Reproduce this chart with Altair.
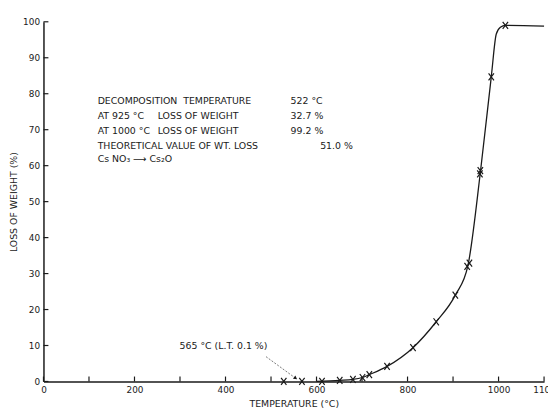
import altair as alt
import pandas as pd

# ---- data ----
# measured points (x marks)
point_temp = [528, 568, 612, 651, 680, 701, 716, 755, 812, 863, 905, 931, 936, 959, 960, 984, 1015]
point_loss = [0.0, 0.0, 0.0, 0.3, 0.55, 1.1, 1.9, 4.2, 9.4, 16.6, 24.0, 32.0, 32.9, 57.7, 58.6, 84.7, 99.0]

# hand-drawn curve through the points
curve_temp = [600, 651, 680, 701, 716, 755, 812, 863, 905, 933, 960, 984, 995, 1004, 1015, 1100]
curve_loss = [0.0, 0.3, 0.55, 1.1, 1.9, 4.2, 9.4, 16.6, 24.0, 32.4, 58.1, 84.7, 96.6, 98.5, 99.0, 98.8]

x_ticks = list(range(0, 1101, 100))
x_labels = [0, 200, 400, 600, 800, 1000, 1100]
y_ticks = list(range(0, 101, 10))

# text block (position in chart units: temperature, loss)
note_text = [
    "DECOMPOSITION", "TEMPERATURE", "522 °C",
    "AT 925 °C", "LOSS OF WEIGHT", "32.7 %",
    "AT 1000 °C", "LOSS OF WEIGHT", "99.2 %",
    "THEORETICAL VALUE OF WT. LOSS", "51.0 %",
    "Cs NO₃ ⟶ Cs₂O",
]
note_t = [119, 307, 543,
          119, 251, 543,
          119, 251, 543,
          119, 608,
          119]
note_l = [77.9, 77.9, 77.9,
          73.7, 73.7, 73.7,
          69.6, 69.6, 69.6,
          65.5, 65.5,
          61.9]

# arrow annotation "565 °C (L.T. 0.1 %)"
ann_text = ["565 °C (L.T. 0.1 %)"]
ann_t = [299]
ann_l = [9.9]
lead_t = [489]
lead_l = [6.9]
lead_t2 = [553]
lead_l2 = [1.0]

INK = "#1a1a1a"
FONT = "DejaVu Sans"
W, H = 508, 365

xs = alt.Scale(domain=[0, 1100], nice=False, zero=False)
ys = alt.Scale(domain=[0, 100], nice=False, zero=False)

x_axis = alt.Axis(
    values=x_labels, ticks=False, grid=False, domain=True, format="d",
    domainColor=INK, domainWidth=1.5, labelColor=INK,
    labelFont=FONT, labelFontSize=9, labelPadding=4,
    title="TEMPERATURE  (°C)", titleFont=FONT, titleFontSize=9.5,
    titleFontWeight="normal", titleColor=INK, titlePadding=4,
    labelFlush=False, labelOverlap=False,
)
y_axis = alt.Axis(
    values=y_ticks, ticks=False, grid=False, domain=True, format="d",
    domainColor=INK, domainWidth=1.5, labelColor=INK,
    labelFont=FONT, labelFontSize=9, labelPadding=4,
    title="LOSS  OF  WEIGHT  (%)", titleFont=FONT, titleFontSize=9.5,
    titleFontWeight="normal", titleColor=INK, titlePadding=4,
    labelFlush=False, labelOverlap=False,
)

curve_df = pd.DataFrame({"temp": curve_temp, "loss": curve_loss})
pts_df = pd.DataFrame({"temp": point_temp, "loss": point_loss})
xt_df = pd.DataFrame({"temp": x_ticks})
yt_df = pd.DataFrame({"loss": y_ticks})
note_df = pd.DataFrame({"txt": note_text, "temp": note_t, "loss": note_l})
ann_df = pd.DataFrame({"txt": ann_text, "temp": ann_t, "loss": ann_l})
lead_df = pd.DataFrame({"temp": lead_t, "loss": lead_l, "t2": lead_t2, "l2": lead_l2})


def X(field="temp"):
    return alt.X(f"{field}:Q", scale=xs, axis=x_axis)


def Y(field="loss"):
    return alt.Y(f"{field}:Q", scale=ys, axis=y_axis)


line = alt.Chart(curve_df).mark_line(
    color=INK, strokeWidth=1.3, interpolate="monotone"
).encode(x=X(), y=Y())

xmark = "M-1,-1.3L1,1.3M-1,1.3L1,-1.3"
points = alt.Chart(pts_df).mark_point(
    shape=xmark, filled=False, color=INK, strokeWidth=1.2, size=30, opacity=1
).encode(x=X(), y=Y())

xticks = alt.Chart(xt_df).mark_rule(color=INK, strokeWidth=1.2).encode(
    x=X(), y=alt.value(H), y2=alt.value(H - 5),
)
yticks = alt.Chart(yt_df).mark_rule(color=INK, strokeWidth=1.2).encode(
    y=Y(), x=alt.value(0), x2=alt.value(5),
)

notes = alt.Chart(note_df).mark_text(
    align="left", baseline="middle", font=FONT, fontSize=9.5, color=INK
).encode(x=X(), y=Y(), text="txt:N")

ann = alt.Chart(ann_df).mark_text(
    align="left", baseline="middle", font=FONT, fontSize=9.5, color=INK
).encode(x=X(), y=Y(), text="txt:N")

lead = alt.Chart(lead_df).mark_rule(
    color="#555555", strokeWidth=0.8, strokeDash=[2, 1.5]
).encode(x=X(), y=Y(), x2="t2:Q", y2="l2:Q")

arrow = alt.Chart(lead_df).mark_point(
    shape="triangle", filled=True, color=INK, size=18, angle=126, opacity=1
).encode(x=X("t2"), y=Y("l2"))

chart = alt.layer(line, points, xticks, yticks, notes, ann, lead, arrow).properties(
    width=W, height=H,
    autosize=alt.AutoSizeParams(type="none"),
    padding={"left": 36, "top": 11, "right": 4, "bottom": 29},
    background="white",
).configure_view(stroke=None)

chart.save("out.html", embed_options={"renderer": "svg", "actions": False})
